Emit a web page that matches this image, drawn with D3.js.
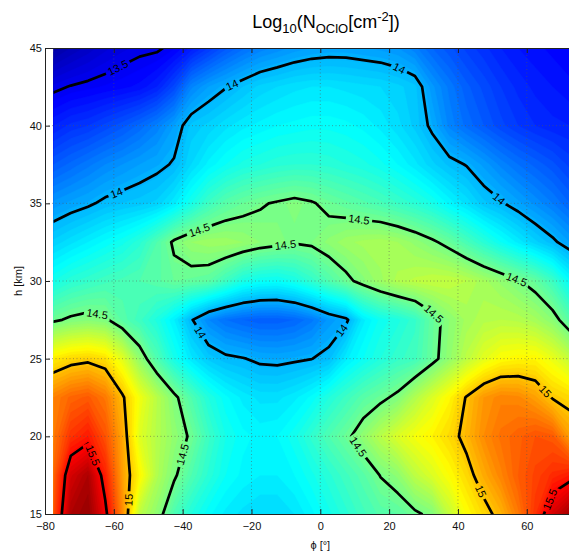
<!DOCTYPE html>
<html lang="en">
<head>
<meta charset="UTF-8">
<title>Log10(N OClO)</title>
<script src="https://cdn.jsdelivr.net/npm/d3@7"></script>
<style>
  body { margin: 0; background: #fff; }
  svg { display: block; font-family: "Liberation Sans", Arial, sans-serif; }
</style>
</head>
<body>
<svg id="chart" width="569" height="553"></svg>
<script>
// grid of the field: columns in latitude phi [deg], rows in altitude h [km]
const phiCols = [-77.5, -72.5, -67.5, -62.5, -57.5, -52.5, -47.5, -42.5, -37.5, -32.5, -27.5,
                 -22.5, -17.5, -12.5, -7.5, -2.5, 2.5, 7.5, 12.5, 17.5, 22.5, 27.5, 32.5,
                 37.5, 42.5, 47.5, 52.5, 57.5, 62.5, 67.5, 72.5];
const hRows = [15, 17.5, 20, 22.5, 25, 27.5, 30, 32.5, 35, 37.5, 40, 42.5, 45];

// log10 of OClO column, one row per altitude (bottom to top)
const logN = [
  [15.30, 15.72, 15.78, 15.54, 15.15, 14.68, 14.56, 14.39, 14.28, 14.20, 14.15, 14.12, 14.10, 14.10, 14.13, 14.18, 14.24, 14.30, 14.36, 14.41, 14.43, 14.48, 14.53, 14.70, 14.85, 14.95, 15.05, 15.20, 15.38, 15.62, 15.75],
  [15.25, 15.62, 15.72, 15.43, 15.10, 14.87, 14.65, 14.52, 14.40, 14.30, 14.22, 14.18, 14.16, 14.16, 14.19, 14.24, 14.30, 14.36, 14.42, 14.505, 14.56, 14.68, 14.76, 14.85, 14.95, 15.07, 15.17, 15.27, 15.34, 15.40, 15.45],
  [15.20, 15.38, 15.45, 15.30, 15.08, 14.77, 14.66, 14.57, 14.48, 14.35, 14.25, 14.20, 14.18, 14.19, 14.24, 14.32, 14.40, 14.47, 14.57, 14.67, 14.76, 14.83, 14.88, 14.95, 15.04, 15.15, 15.22, 15.26, 15.30, 15.28, 15.10],
  [15.18, 15.25, 15.28, 15.20, 15.02, 14.82, 14.67, 14.53, 14.40, 14.28, 14.20, 14.15, 14.12, 14.12, 14.15, 14.20, 14.28, 14.35, 14.42, 14.47, 14.53, 14.65, 14.76, 14.87, 15.01, 15.12, 15.17, 15.16, 15.10, 14.99, 14.95],
  [14.90, 14.95, 14.97, 14.93, 14.78, 14.57, 14.40, 14.25, 14.14, 14.06, 14.02, 14.005, 13.98, 13.975, 13.985, 13.998, 14.03, 14.15, 14.22, 14.28, 14.33, 14.36, 14.46, 14.57, 14.68, 14.78, 14.85, 14.87, 14.87, 14.80, 14.70],
  [14.48, 14.52, 14.54, 14.52, 14.42, 14.35, 14.27, 14.16, 14.01, 13.89, 13.83, 13.80, 13.78, 13.78, 13.80, 13.85, 13.93, 13.98, 14.15, 14.23, 14.27, 14.33, 14.45, 14.55, 14.62, 14.66, 14.67, 14.66, 14.62, 14.55, 14.42],
  [14.25, 14.30, 14.33, 14.36, 14.38, 14.40, 14.42, 14.46, 14.45, 14.43, 14.35, 14.26, 14.22, 14.21, 14.25, 14.32, 14.40, 14.47, 14.54, 14.60, 14.65, 14.68, 14.70, 14.70, 14.67, 14.62, 14.57, 14.51, 14.45, 14.35, 14.20],
  [14.08, 14.12, 14.16, 14.20, 14.24, 14.30, 14.40, 14.52, 14.58, 14.60, 14.60, 14.58, 14.55, 14.53, 14.51, 14.52, 14.56, 14.60, 14.62, 14.63, 14.61, 14.57, 14.52, 14.46, 14.38, 14.30, 14.22, 14.15, 14.08, 14.02, 13.95],
  [13.93, 13.96, 13.985, 14.02, 14.04, 14.055, 14.08, 14.15, 14.25, 14.35, 14.42, 14.46, 14.49, 14.51, 14.53, 14.51, 14.47, 14.44, 14.41, 14.38, 14.34, 14.30, 14.25, 14.18, 14.12, 14.05, 14.01, 13.96, 13.91, 13.86, 13.80],
  [13.77, 13.81, 13.85, 13.89, 13.92, 13.95, 13.975, 14.01, 14.10, 14.17, 14.22, 14.26, 14.28, 14.30, 14.31, 14.31, 14.30, 14.28, 14.26, 14.23, 14.19, 14.14, 14.08, 14.03, 13.995, 13.94, 13.88, 13.83, 13.79, 13.75, 13.70],
  [13.62, 13.66, 13.68, 13.72, 13.76, 13.81, 13.87, 13.95, 14.05, 14.08, 14.12, 14.15, 14.17, 14.19, 14.20, 14.21, 14.21, 14.20, 14.18, 14.15, 14.11, 14.06, 13.98, 13.88, 13.82, 13.77, 13.72, 13.68, 13.65, 13.63, 13.62],
  [13.48, 13.505, 13.52, 13.535, 13.55, 13.57, 13.62, 13.72, 13.88, 13.95, 13.995, 14.04, 14.08, 14.10, 14.12, 14.13, 14.13, 14.12, 14.11, 14.10, 14.08, 14.05, 13.93, 13.85, 13.78, 13.73, 13.68, 13.64, 13.61, 13.59, 13.57],
  [13.30, 13.35, 13.39, 13.43, 13.46, 13.48, 13.485, 13.525, 13.60, 13.68, 13.76, 13.82, 13.87, 13.90, 13.93, 13.95, 13.96, 13.96, 13.95, 13.94, 13.92, 13.87, 13.80, 13.75, 13.70, 13.66, 13.62, 13.59, 13.57, 13.55, 13.53]
];

const lineLevels = [13.5, 14, 14.5, 15, 15.5];
const colorRange = [13.21, 15.84];
const xTicks = [-80, -60, -40, -20, 0, 20, 40, 60];
const yTicks = [15, 20, 25, 30, 35, 40, 45];

// where clabel put the inline labels: [level, phi, h]
const labelSpots = [
  [13.5, -58.2, 43.45],
  [14, -59.1, 35.6], [14, -25.6, 42.6], [14, 23.2, 43.8], [14, 50.8, 35.0],
  [14, -37.0, 26.4], [14, 8.7, 26.4],
  [14.5, -35.5, 33.5], [14.5, 11, 33.5], [14.5, -10.2, 32.4], [14.5, 57.2, 30.2],
  [14.5, 33.4, 28.0], [14.5, 9.5, 19.1], [14.5, -64.9, 27.8], [14.5, -39.3, 18.8],
  [15, -54.7, 15.9], [15.5, -66.9, 18.7], [15, 47.0, 16.5], [15, 64.2, 22.65],
  [15.5, 67.2, 15.9]
];

const W = 569, H = 553;
const svg = d3.select("#chart");
const x = d3.scaleLinear().domain([-80, 80]).range([45, 595.6]);
const y = d3.scaleLinear().domain([15, 45]).range([514, 48]);

// matlab jet
function jet(t) {
  const c = v => Math.max(0, Math.min(1, v));
  return d3.rgb(255 * c(Math.min(4 * t - 1.5, -4 * t + 4.5)),
                255 * c(Math.min(4 * t - 0.5, -4 * t + 3.5)),
                255 * c(Math.min(4 * t + 0.5, -4 * t + 2.5))) + "";
}
const color = d3.scaleSequential(jet).domain(colorRange);

// padded grid (edge copied once on every side), top row = highest h
const nx = phiCols.length, ny = hRows.length;
const dPhi = phiCols[1] - phiCols[0], dH = hRows[1] - hRows[0];
const rowsTop = logN.slice().reverse();
const pw = nx + 2, ph = ny + 2;
const flat = new Array(pw * ph);
for (let j = 0; j < ph; j++) {
  const r = rowsTop[Math.min(Math.max(j - 1, 0), ny - 1)];
  for (let i = 0; i < pw; i++) flat[j * pw + i] = r[Math.min(Math.max(i - 1, 0), nx - 1)];
}
const toPx = (u, v) => [x(phiCols[0] + (u - 1.5) * dPhi), y(hRows[ny - 1] - (v - 1.5) * dH)];
const path = d3.geoPath(d3.geoTransform({
  point(u, v) { const p = toPx(u, v); this.stream.point(p[0], p[1]); }
}));

const defs = svg.append("defs");
defs.append("clipPath").attr("id", "plotClip").append("rect")
  .attr("x", x(phiCols[0])).attr("y", y(hRows[ny - 1]))
  .attr("width", x(phiCols[nx - 1]) - x(phiCols[0]))
  .attr("height", y(hRows[0]) - y(hRows[ny - 1]));

// filled bands
const step = 0.03;
const bandThresholds = d3.range(13.2, 15.95, step);
const bands = d3.contours().size([pw, ph]).thresholds(bandThresholds)(flat);
svg.append("g").attr("clip-path", "url(#plotClip)")
  .selectAll("path").data(bands).join("path")
  .attr("d", path)
  .attr("fill", d => color(d.value + step / 2))
  .attr("stroke", d => color(d.value + step / 2))
  .attr("stroke-width", 0.4);

// grid
const grid = svg.append("g").attr("stroke", "#555").attr("stroke-width", 0.8)
  .attr("stroke-dasharray", "1,2.5").attr("opacity", 0.65);
grid.selectAll(".gx").data(xTicks.slice(1)).join("line")
  .attr("x1", d => x(d)).attr("x2", d => x(d)).attr("y1", y(45)).attr("y2", y(15));
grid.selectAll(".gy").data(yTicks.slice(1, -1)).join("line")
  .attr("x1", x(-80)).attr("x2", W).attr("y1", d => y(d)).attr("y2", d => y(d));

// contour lines
const lines = d3.contours().size([pw, ph]).thresholds(lineLevels)(flat);
const lineGroup = svg.append("g").attr("clip-path", "url(#plotClip)");
const lineWrap = lineGroup.append("g").attr("mask", "url(#gapMask)");
lineWrap.selectAll("path").data(lines).join("path")
  .attr("d", path).attr("fill", "none").attr("stroke", "#000")
  .attr("stroke-width", 2.7).attr("stroke-linejoin", "round");

// snap each label to its line and read the local direction
function snap(level, phi, h) {
  const px = x(phi), py = y(h);
  const geo = lines.find(g => g.value === level);
  let best = null;
  geo.coordinates.forEach(poly => poly.forEach(ring => {
    const pts = ring.map(([u, v]) => toPx(u, v));
    for (let k = 0; k < pts.length - 1; k++) {
      const [ax, ay] = pts[k], [bx, by] = pts[k + 1];
      const dx = bx - ax, dy = by - ay, L2 = dx * dx + dy * dy;
      if (!L2) continue;
      let s = ((px - ax) * dx + (py - ay) * dy) / L2;
      s = Math.max(0, Math.min(1, s));
      const qx = ax + s * dx, qy = ay + s * dy;
      const d = (qx - px) ** 2 + (qy - py) ** 2;
      if (!best || d < best.d) best = { d, x: qx, y: qy, ang: Math.atan2(dy, dx) * 180 / Math.PI };
    }
  }));
  let a = best.ang;
  if (a > 90) a -= 180;
  if (a <= -90) a += 180;
  return { x: best.x, y: best.y, ang: a };
}

const mask = defs.append("mask").attr("id", "gapMask")
  .attr("maskUnits", "userSpaceOnUse").attr("x", 0).attr("y", 0).attr("width", W).attr("height", H);
mask.append("rect").attr("width", W).attr("height", H).attr("fill", "#fff");

const labelGroup = svg.append("g").attr("font-size", 11).attr("fill", "#000");
labelSpots.forEach(([level, phi, h]) => {
  const s = snap(level, phi, h);
  const t = labelGroup.append("text")
    .attr("transform", `translate(${s.x},${s.y}) rotate(${s.ang})`)
    .attr("text-anchor", "middle").attr("dy", "0.36em")
    .text(String(level));
  const w = t.node().getComputedTextLength() + 5;
  mask.append("rect").attr("x", -w / 2).attr("y", -6).attr("width", w).attr("height", 12)
    .attr("transform", `translate(${s.x},${s.y}) rotate(${s.ang})`).attr("fill", "#000");
});

// axes (inward ticks, box on top)
const axisFont = g => g.attr("font-size", 11).attr("font-family", "'Liberation Sans', Arial, sans-serif")
  .call(g => g.selectAll("text").attr("fill", "#111"))
  .call(g => g.selectAll("line, path").attr("stroke", "#222"));

svg.append("g").attr("transform", `translate(0,${y(15)})`)
  .call(d3.axisBottom(x).tickValues(xTicks).tickSizeInner(-5).tickSizeOuter(0).tickPadding(8))
  .call(axisFont);
svg.append("g").attr("transform", `translate(0,${y(45)})`)
  .call(d3.axisTop(x).tickValues(xTicks).tickSizeInner(-5).tickSizeOuter(0).tickFormat(""))
  .call(axisFont);
svg.append("g").attr("transform", `translate(${x(-80)},0)`)
  .call(d3.axisLeft(y).tickValues(yTicks).tickSizeInner(-5).tickSizeOuter(0).tickPadding(3))
  .call(axisFont);

// titles
const title = svg.append("text").attr("x", 326).attr("y", 28)
  .attr("text-anchor", "middle").attr("font-size", 18).attr("fill", "#000");
title.append("tspan").text("Log");
title.append("tspan").attr("font-size", 13).attr("dy", 5).text("10");
title.append("tspan").attr("dy", -5).text("(N");
title.append("tspan").attr("font-size", 13).attr("dy", 5).text("OClO");
title.append("tspan").attr("dy", -5).text("[cm");
title.append("tspan").attr("font-size", 13).attr("dy", -7).text("-2");
title.append("tspan").attr("dy", 7).text("])");

svg.append("text").attr("x", x(0)).attr("y", 549).attr("text-anchor", "middle")
  .attr("font-size", 11).attr("fill", "#111").text("ϕ [°]");
svg.append("text").attr("transform", `translate(18,${(y(15) + y(45)) / 2}) rotate(-90)`)
  .attr("text-anchor", "middle").attr("dy", "0.35em")
  .attr("font-size", 11).attr("fill", "#111").text("h [km]");
</script>
</body>
</html>
